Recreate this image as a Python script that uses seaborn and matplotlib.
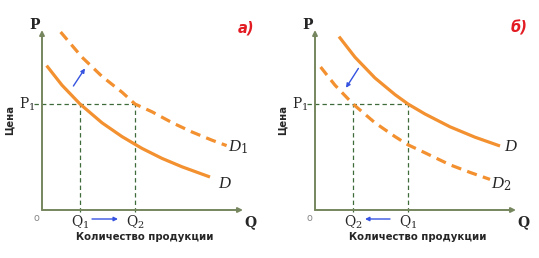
import matplotlib
matplotlib.use("Agg")
import matplotlib.pyplot as plt
import seaborn as sns
import pandas as pd

# ---- data ----
# Panel a): original demand D and increased demand D1
qa_D = [0.23, 1.0, 1.9, 3.0, 4.0, 5.0, 6.0, 7.0, 8.4]
pa_D = [7.22, 6.24, 5.30, 4.36, 3.67, 3.08, 2.58, 2.16, 1.65]
qa_D1 = [0.93, 2.0, 3.0, 4.0, 4.65, 5.5, 6.5, 7.5, 8.5, 9.23]
pa_D1 = [8.90, 7.64, 6.68, 5.89, 5.30, 4.91, 4.37, 3.90, 3.49, 3.22]
# Panel б): original demand D and decreased demand D2
qb_D = [1.2, 2.0, 3.0, 4.0, 4.65, 5.5, 6.75, 8.0, 9.25]
pb_D = [8.67, 7.64, 6.60, 5.77, 5.30, 4.80, 4.16, 3.64, 3.20]
qb_D2 = [0.28, 1.0, 1.9, 3.0, 4.0, 4.65, 5.5, 6.75, 7.75, 8.75]
pb_D2 = [7.15, 6.24, 5.30, 4.36, 3.67, 3.26, 2.86, 2.26, 1.88, 1.53]

P1 = 5.3
Qa = {"Q1": 1.9, "Q2": 4.65}
Qb = {"Q2": 1.9, "Q1": 4.65}

panel_titles = ["а)", "б)"]
x_label = "Количество продукции"
y_label = "Цена"

ORANGE = "#f3902f"
AXCOL = "#76865e"
GUIDE = "#3f6a3a"
BLUE = "#3553e0"

sns.set_style("white")
plt.rcParams["mathtext.fontset"] = "custom"
plt.rcParams["mathtext.rm"] = "DejaVu Serif"
plt.rcParams["mathtext.it"] = "Liberation Serif:italic"

W, H = 539, 258
fig = plt.figure(figsize=(W / 100, H / 100), dpi=100)

def make_ax(x0):
    ax = fig.add_axes([x0 / W, (H - 210) / H, 201 / W, 180 / H])
    ax.set_xlim(0, 10.05)
    ax.set_ylim(0, 9.0)
    ax.axis("off")
    return ax

def axes_arrows(ax):
    for end in [(10.05, 0), (0, 9.0)]:
        ax.annotate("", xy=end, xytext=(0, 0),
                    arrowprops=dict(arrowstyle="-|>", color=AXCOL, lw=1.4,
                                    mutation_scale=7, shrinkA=0, shrinkB=0),
                    annotation_clip=False)

def curve(ax, q, p, dashed):
    df = pd.DataFrame({"Q": q, "P": p})
    sns.lineplot(data=df, x="Q", y="P", ax=ax, sort=False, color=ORANGE,
                 lw=2.3, solid_capstyle="butt", solid_joinstyle="round",
                 dash_capstyle="butt",
                 linestyle=(0, (3.2, 2.0)) if dashed else "-", legend=False)
    ax.set_xlim(0, 10.05)
    ax.set_ylim(0, 9.0)
    ax.axis("off")

def guides(ax, qs):
    qmax = max(qs.values())
    ax.plot([-0.4, qmax], [P1, P1], color=GUIDE, lw=0.9, ls=(0, (3.5, 2.5)),
            clip_on=False)
    for q in qs.values():
        ax.plot([q, q], [-0.1, P1], color=GUIDE, lw=0.9, ls=(0, (3.5, 2.5)),
                clip_on=False)

def labels(ax, qs, title):
    ser = "DejaVu Serif"
    ax.text(-0.35, 9.25, "P", fontfamily=ser, fontweight="bold", fontsize=10,
            ha="center", va="center", clip_on=False)
    ax.text(10.4, -0.6, "Q", fontfamily=ser, fontweight="bold", fontsize=10,
            ha="center", va="center", clip_on=False)
    ax.text(-0.3, -0.4, "o", fontfamily="DejaVu Sans", fontsize=7, color="#888888",
            ha="center", va="center", clip_on=False)
    ax.text(-0.75, P1, "P$_1$", fontfamily=ser, fontsize=10,
            ha="center", va="center", clip_on=False)
    for name, q in qs.items():
        ax.text(q, -0.62, name[0] + "$_" + name[1] + "$", fontfamily=ser,
                fontsize=10, ha="center", va="center", clip_on=False)
    ax.text(10.2, 9.1, title, color="#e31b23", fontfamily="DejaVu Sans",
            fontstyle="italic", fontweight="bold", fontsize=10.5,
            ha="center", va="center", clip_on=False)
    ax.text(5.15, -1.35, x_label, fontfamily="DejaVu Sans", fontweight="bold",
            fontsize=7.3, ha="center", va="center", clip_on=False)
    ax.text(-1.6, 4.5, y_label, fontfamily="DejaVu Sans", fontweight="bold",
            fontsize=7.3, rotation=90, ha="center", va="center", clip_on=False)

def blue_arrow(ax, start, end):
    ax.annotate("", xy=end, xytext=start,
                arrowprops=dict(arrowstyle="-|>", color=BLUE, lw=1.0,
                                mutation_scale=6, shrinkA=0, shrinkB=0),
                annotation_clip=False)

serif = "Liberation Serif"

def dlabel(ax, x, y, s):
    ax.text(x, y, s, fontfamily=serif, fontstyle="italic", fontsize=12,
            ha="center", va="center", clip_on=False)

# ---- panel a) ----
axa = make_ax(42)
guides(axa, Qa)
curve(axa, qa_D, pa_D, False)
curve(axa, qa_D1, pa_D1, True)
axes_arrows(axa)
labels(axa, Qa, panel_titles[0])
dlabel(axa, 9.1, 1.3, "D")
dlabel(axa, 9.8, 3.15, "D$_1$")
blue_arrow(axa, (1.57, 6.2), (2.15, 7.08))
blue_arrow(axa, (2.5, -0.45), (3.8, -0.45))

# ---- panel б) ----
axb = make_ax(315)
guides(axb, Qb)
curve(axb, qb_D, pb_D, False)
curve(axb, qb_D2, pb_D2, True)
axes_arrows(axb)
labels(axb, Qb, panel_titles[1])
dlabel(axb, 9.75, 3.15, "D")
dlabel(axb, 9.3, 1.3, "D$_2$")
blue_arrow(axb, (2.17, 7.08), (1.55, 6.11))
blue_arrow(axb, (3.75, -0.45), (2.5, -0.45))

fig.savefig("out.png", dpi=100)
